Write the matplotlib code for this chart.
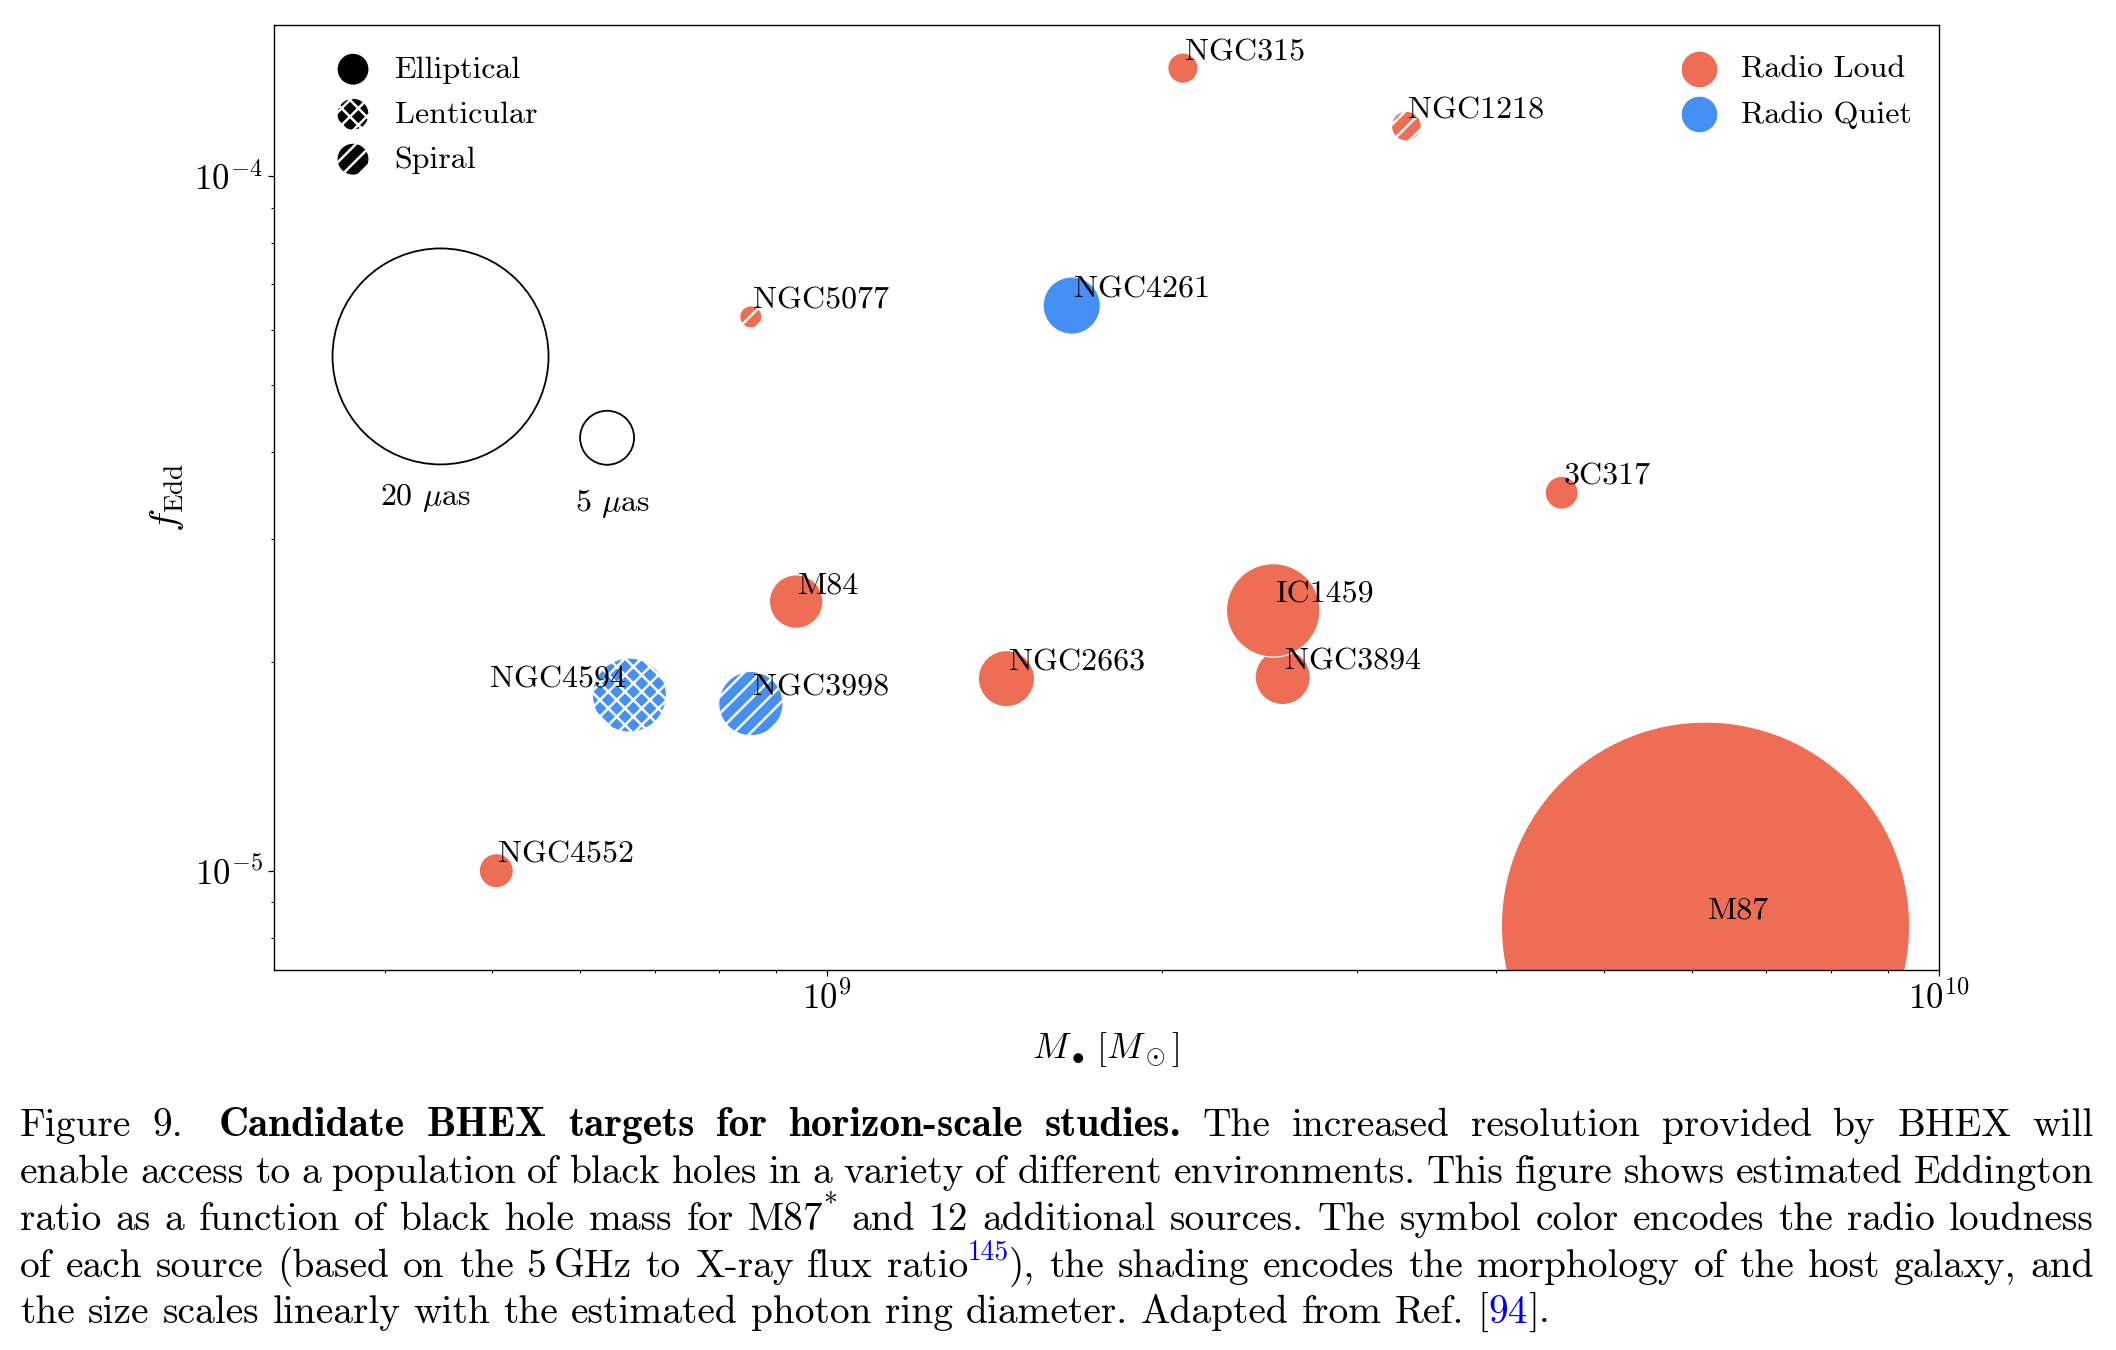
import numpy as np
import matplotlib
matplotlib.use("Agg")
import matplotlib.pyplot as plt
from matplotlib.font_manager import FontProperties

# ---------------- data ----------------
names = ["NGC315", "NGC1218", "NGC5077", "NGC4261", "3C317", "M84",
         "NGC4594", "NGC3998", "NGC4552", "NGC2663", "NGC3894", "IC1459", "M87"]
mass_1e9 = [2.09, 3.32, 0.854, 1.66, 4.58, 0.938,
            0.664, 0.854, 0.504, 1.45, 2.57, 2.52, 6.17]
fedd_1e5 = [14.3, 11.8, 6.27, 6.51, 3.50, 2.44,
            1.79, 1.74, 1.00, 1.89, 1.90, 2.37, 0.832]
ring_uas = [2.8, 2.75, 2.05, 5.3, 3.05, 4.95,
            6.85, 5.95, 3.15, 5.2, 5.1, 8.65, 37.8]
radio = ["Loud", "Loud", "Loud", "Quiet", "Loud", "Loud",
         "Quiet", "Quiet", "Loud", "Loud", "Loud", "Loud", "Loud"]
morph = ["Elliptical", "Spiral", "Spiral", "Elliptical", "Elliptical", "Elliptical",
         "Lenticular", "Spiral", "Elliptical", "Elliptical", "Elliptical", "Elliptical", "Elliptical"]
label_side = ["right"] * len(names)
label_side[names.index("NGC4594")] = "left"

ref_ring = [20, 5]
ref_mass = [4.49e8, 6.34e8]
ref_fedd = [5.5e-5, 4.2e-5]
ref_text = [r"20 $\mu$as", r"5 $\mu$as"]
ref_text_mass = [4.35e8, 6.41e8]
ref_text_fedd = [3.36e-5, 3.30e-5]

x_lim = (3.18e8, 1e10)
y_lim = (7.2e-6, 1.65e-4)

morph_order = ["Elliptical", "Lenticular", "Spiral"]
radio_order = ["Radio Loud", "Radio Quiet"]

# ---------------- style ----------------
DPI = 100
FW, FH = 2116, 1350
PX_PER_UAS = 10.8
colors = {"Loud": "#EE6E55", "Quiet": "#4690F5"}
hatches = {"Elliptical": "", "Lenticular": "xx", "Spiral": "//"}

plt.rcParams["font.family"] = "cmr10"
plt.rcParams["mathtext.fontset"] = "cm"
plt.rcParams["axes.formatter.use_mathtext"] = True
plt.rcParams["axes.unicode_minus"] = False
plt.rcParams["hatch.linewidth"] = 1.8

def area(d_uas):
    return (np.asarray(d_uas) * PX_PER_UAS * 72.0 / DPI) ** 2

fig = plt.figure(figsize=(FW / DPI, FH / DPI), dpi=DPI)
ax = fig.add_axes([274 / FW, 1 - 969.8 / FH, (1938.6 - 274) / FW, (969.8 - 25) / FH])
ax.set_xscale("log")
ax.set_yscale("log")
ax.set_xlim(*x_lim)
ax.set_ylim(*y_lim)

mass = np.array(mass_1e9) * 1e9
fedd = np.array(fedd_1e5) * 1e-5
sizes = area(ring_uas)

for i, n in enumerate(names):
    ax.scatter([mass[i]], [fedd[i]], s=[sizes[i]], c=colors[radio[i]],
               edgecolors="white", linewidths=0.8, hatch=hatches[morph[i]],
               zorder=2 + i * 0.01)
    if label_side[i] == "right":
        ax.annotate(n, (mass[i], fedd[i]), xytext=(1.5, 5.8), textcoords="offset points",
                    ha="left", va="baseline", fontsize=23, zorder=5)
    else:
        ax.annotate(n, (mass[i], fedd[i]), xytext=(-2.5, 5.8), textcoords="offset points",
                    ha="right", va="baseline", fontsize=23, zorder=5)

ax.scatter(ref_mass, ref_fedd, s=area(ref_ring), facecolors="none",
           edgecolors="black", linewidths=1.3, zorder=2)
for t, xm, yf in zip(ref_text, ref_text_mass, ref_text_fedd):
    ax.text(xm, yf, t, ha="center", va="baseline", fontsize=23)

# legends
leg_kw = dict(frameon=False, fontsize=23, handlelength=1.0, handletextpad=0.8,
              borderaxespad=0.0, borderpad=0.4, labelspacing=0.52, loc="upper left")
mh = [ax.scatter([], [], s=530, c="black", edgecolors="white", linewidths=0.8,
                 hatch=hatches[m]) for m in morph_order]
leg1 = ax.legend(mh, morph_order, bbox_to_anchor=(0.0302, 0.9815), **leg_kw)
for h, m in zip(leg1.legend_handles, morph_order):
    h.set_hatch(hatches[m])
    h.set_edgecolor("white")
    h.set_sizes([530])
ax.add_artist(leg1)
rh = [ax.scatter([], [], s=700, c=colors[k], edgecolors="white", linewidths=0.8)
      for k in ["Loud", "Quiet"]]
leg2 = ax.legend(rh, radio_order, bbox_to_anchor=(0.8388, 0.9815), **leg_kw)
for h in leg2.legend_handles:
    h.set_sizes([700])

ax.set_xlabel(r"$M_\bullet\,[M_\odot]$", fontsize=26, labelpad=10)
ax.set_ylabel(r"$f_{\rm Edd}$", fontsize=28, labelpad=6)
ax.tick_params(which="major", length=4.5, width=0.9, labelsize=25, direction="out")
ax.tick_params(which="minor", length=2.5, width=0.7, direction="out")
for sp in ax.spines.values():
    sp.set_linewidth(1.0)

# ---------------- caption ----------------
CAP_FS = 28.4
CAP_LEFT, CAP_RIGHT = 20, 2094
CAP_BASE = [1136, 1183, 1230, 1277, 1323]
caption = [
    [("Figure 9.", "n"), ("~", "quad"), (" Candidate BHEX targets for horizon-scale studies.", "b"),
     (" The increased resolution provided by BHEX will", "n")],
    [("enable access to a population of black holes in a variety of different environments. "
      "This figure shows estimated Eddington", "n")],
    [("ratio as a function of black hole mass for M87", "n"), ("*", "sup"),
     (" and 12 additional sources. The symbol color encodes the radio loudness", "n")],
    [("of each source (based on the 5", "n"), ("~", "thin"), ("GHz to X-ray flux ratio", "n"),
     ("145", "supblue"), ("), the shading encodes the morphology of the host galaxy, and", "n")],
    [("the size scales linearly with the estimated photon ring diameter. Adapted from Ref. [", "n"),
     ("94", "blue"), ("].", "n")],
]
LINK = "#0000EE"
em = CAP_FS * DPI / 72.0
props = {
    "n": (FontProperties(family="cmr10", size=CAP_FS), "black", 0.0),
    "b": (FontProperties(family="cmb10", size=CAP_FS * 1.05), "black", 0.0),
    "blue": (FontProperties(family="cmr10", size=CAP_FS), LINK, 0.0),
    "sup": (FontProperties(family="cmr10", size=CAP_FS * 0.7), "black", 0.45 * em),
    "supblue": (FontProperties(family="cmr10", size=CAP_FS * 0.7), LINK, 0.45 * em),
}
gaps = {"quad": 0.35 * em, "thin": 0.17 * em}

fig.canvas.draw()
renderer = fig.canvas.get_renderer()

def seg_w(text, style):
    if style in gaps:
        return gaps[style]
    w, h, d = renderer.get_text_width_height_descent(text, props[style][0], ismath=False)
    return w

for li, line in enumerate(caption):
    words = [[]]
    for text, style in line:
        parts = text.split(" ")
        for k, p in enumerate(parts):
            if k > 0:
                words.append([])
            if p:
                words[-1].append((p, style))
    words = [w for w in words if w]
    widths = [sum(seg_w(t, s) for t, s in w) for w in words]
    last = li == len(caption) - 1
    if last or len(words) < 2:
        gap = 0.333 * em
    else:
        gap = max((CAP_RIGHT - CAP_LEFT - sum(widths)) / (len(words) - 1), 0.12 * em)
    x = CAP_LEFT
    yb = CAP_BASE[li]
    for w, wd in zip(words, widths):
        xx = x
        for t, s in w:
            if s not in gaps:
                fp, col, rise = props[s]
                fig.text(xx / FW, 1 - (yb - rise) / FH, t, fontproperties=fp, color=col,
                         ha="left", va="baseline")
            xx += seg_w(t, s)
        x += wd + gap

fig.savefig("out.png", dpi=DPI)
